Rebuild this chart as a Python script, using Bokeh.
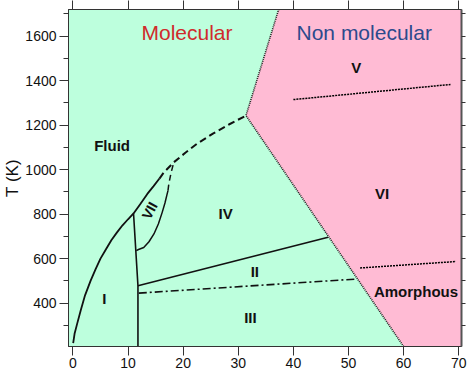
from bokeh.plotting import figure
from bokeh.models import Range1d, FixedTicker, LinearAxis
from bokeh.core.properties import value
from bokeh.embed import file_html
from bokeh.resources import INLINE

# ---------------- data ----------------
x_ticks = [0, 10, 20, 30, 40, 50, 60, 70]
y_major = [400, 600, 800, 1000, 1200, 1400, 1600]
y_minor = [300, 500, 700, 900, 1100, 1300, 1500, 1700]
y_right = [300, 400, 500, 600, 700, 800, 900, 1000, 1100, 1200, 1300, 1400, 1500, 1600, 1700]

# non-molecular region (boundary and filled area)
bound_x = [37.45, 31.4, 60.0]
bound_y = [1730, 1243, 205]
nonmol_x = [37.45, 31.4, 60.0, 72, 72]
nonmol_y = [1730, 1243, 205, 205, 1730]

# melting curve: solid and dashed parts
melt_x = [0.05, 0.3, 0.8, 1.4, 2.2, 3.2, 4.1, 5.0, 6.0, 7.0, 8.0, 9.0, 10.0, 11.0, 12.3, 13.5, 14.6, 15.7]
melt_y = [220, 262, 310, 366, 435, 500, 552, 600, 642, 684, 718, 750, 777, 803, 848, 891, 925, 960]
melt_dash_x = [15.7, 16.5, 18.3, 20.4, 22.5, 25.4, 28.3, 31.4]
melt_dash_y = [960, 988, 1033, 1076, 1116, 1162, 1203, 1243]

# phase VII loop
vii_x = [11.5, 11.9, 12.85, 13.8, 14.7, 15.5, 16.2, 16.7, 17.1, 17.25]
vii_y = [636, 641, 650, 676, 711, 756, 808, 850, 891, 906]
vii_dash_x = [17.25, 17.4, 17.8, 18.3]
vii_dash_y = [906, 936, 985, 1033]

# I / VII / III boundary
b1_x = [11.0, 11.8, 11.8]
b1_y = [803, 478, 205]
# IV / II boundary
b2_x = [11.8, 46.3]
b2_y = [478, 696]
# II / III boundary (dash-dot)
b3_x = [11.95, 51.3]
b3_y = [445, 508]
# V / VI boundary (dotted)
b4_x = [40.0, 68.5]
b4_y = [1315, 1383]
# VI / Amorphous boundary (dotted)
b5_x = [52.1, 69.5]
b5_y = [558, 587]

# labels
phase_text = ["Fluid", "I", "III", "II", "IV", "V", "VI", "Amorphous"]
phase_x = [7.1, 5.7, 32.2, 33.0, 27.7, 51.4, 56.1, 62.25]
phase_y = [1108, 423, 337, 540, 805, 1460, 891, 451]
vii_label = ["VII"]
vii_label_x = [13.9]
vii_label_y = [816]
mol_text = ["Molecular"]
mol_x = [20.7]
mol_y = [1616]
nonmol_text = ["Non molecular"]
nonmol_tx = [52.85]
nonmol_ty = [1616]

# ---------------- figure ----------------
FONT = "Liberation Sans"
MINT = "#bdffdd"
PINK = "#ffbbd4"
INK = "#111111"

p = figure(width=472, height=372, x_range=Range1d(-0.8, 70.5), y_range=Range1d(205, 1720),
           output_backend="svg", toolbar_location=None,
           min_border_left=68, min_border_right=11, min_border_top=9, min_border_bottom=26)
p.grid.visible = False
p.background_fill_color = MINT
p.border_fill_color = "white"
p.outline_line_color = "#333333"
p.outline_line_width = 1

# x axis
p.xaxis.ticker = FixedTicker(ticks=x_ticks)
p.xaxis.major_tick_out = 9
p.xaxis.major_tick_in = 0
p.xaxis.minor_tick_out = 0
p.xaxis.minor_tick_in = 0
p.xaxis.major_label_standoff = 2
p.xaxis.major_label_text_font = FONT
p.xaxis.major_label_text_font_size = "14px"
p.xaxis.major_label_text_color = INK
p.xaxis.axis_line_color = "#333333"
p.xaxis.major_tick_line_color = "#333333"

# y axis
p.yaxis.ticker = FixedTicker(ticks=y_major, minor_ticks=y_minor)
p.yaxis.major_tick_out = 9
p.yaxis.major_tick_in = 0
p.yaxis.minor_tick_out = 5
p.yaxis.minor_tick_in = 0
p.yaxis.major_label_standoff = 3
p.yaxis.major_label_text_font = FONT
p.yaxis.major_label_text_font_size = "14px"
p.yaxis.major_label_text_color = INK
p.yaxis.axis_label = "T (K)"
p.yaxis.axis_label_text_font = FONT
p.yaxis.axis_label_text_font_size = "17px"
p.yaxis.axis_label_text_font_style = "normal"
p.yaxis.axis_label_text_color = INK
p.yaxis.axis_label_standoff = 0
p.yaxis.axis_line_color = "#333333"
p.yaxis.major_tick_line_color = "#333333"
p.yaxis.minor_tick_line_color = "#333333"

# right axis (ticks only)
ra = LinearAxis(ticker=FixedTicker(ticks=y_right), major_tick_out=4, major_tick_in=0,
                minor_tick_out=0, minor_tick_in=0, major_label_standoff=0,
                major_label_overrides={t: "" for t in y_right},
                axis_line_color="#555555", axis_line_width=2,
                major_tick_line_color="#333333")
p.add_layout(ra, "right")

# top axis (ticks only)
ta = LinearAxis(ticker=FixedTicker(ticks=x_ticks), major_tick_out=9, major_tick_in=0,
                minor_tick_out=0, minor_tick_in=0, major_label_standoff=0,
                major_label_overrides={t: "" for t in x_ticks},
                axis_line_color="#333333", major_tick_line_color="#333333")
p.add_layout(ta, "above")

# regions
p.patch(nonmol_x, nonmol_y, fill_color=PINK, line_color=None)
p.line(bound_x, bound_y, line_color="#222222", line_width=1.6, line_dash="1 1")

# lines
p.line(melt_x, melt_y, line_color=INK, line_width=1.8)
p.line(melt_dash_x, melt_dash_y, line_color=INK, line_width=2, line_dash="7 4")
p.line(vii_x, vii_y, line_color=INK, line_width=1.5)
p.line(vii_dash_x, vii_dash_y, line_color=INK, line_width=1.5, line_dash="6 4")
p.line(b1_x, b1_y, line_color=INK, line_width=1.6)
p.line(b2_x, b2_y, line_color=INK, line_width=1.6)
p.line(b3_x, b3_y, line_color=INK, line_width=1.6, line_dash="8 3 2 3")
p.line(b4_x, b4_y, line_color="#000000", line_width=1.5, line_dash="2 1")
p.line(b5_x, b5_y, line_color="#000000", line_width=1.5, line_dash="2 1")

# labels
p.text(x=phase_x, y=phase_y, text=phase_text, text_font=value(FONT), text_font_size="15px",
       text_font_style="bold", text_color=INK, text_align="center", text_baseline="middle")
p.text(x=vii_label_x, y=vii_label_y, text=vii_label, text_font=value(FONT), text_font_size="14px",
       text_font_style="bold", text_color=INK, text_align="center", text_baseline="middle",
       angle=1.08)
p.text(x=mol_x, y=mol_y, text=mol_text, text_font=value(FONT), text_font_size="21px",
       text_color="#d02b2b", text_align="center", text_baseline="middle")
p.text(x=nonmol_tx, y=nonmol_ty, text=nonmol_text, text_font=value(FONT), text_font_size="21px",
       text_color="#2c4a8c", text_align="center", text_baseline="middle")

open("out.html", "w").write(file_html(p, INLINE))
